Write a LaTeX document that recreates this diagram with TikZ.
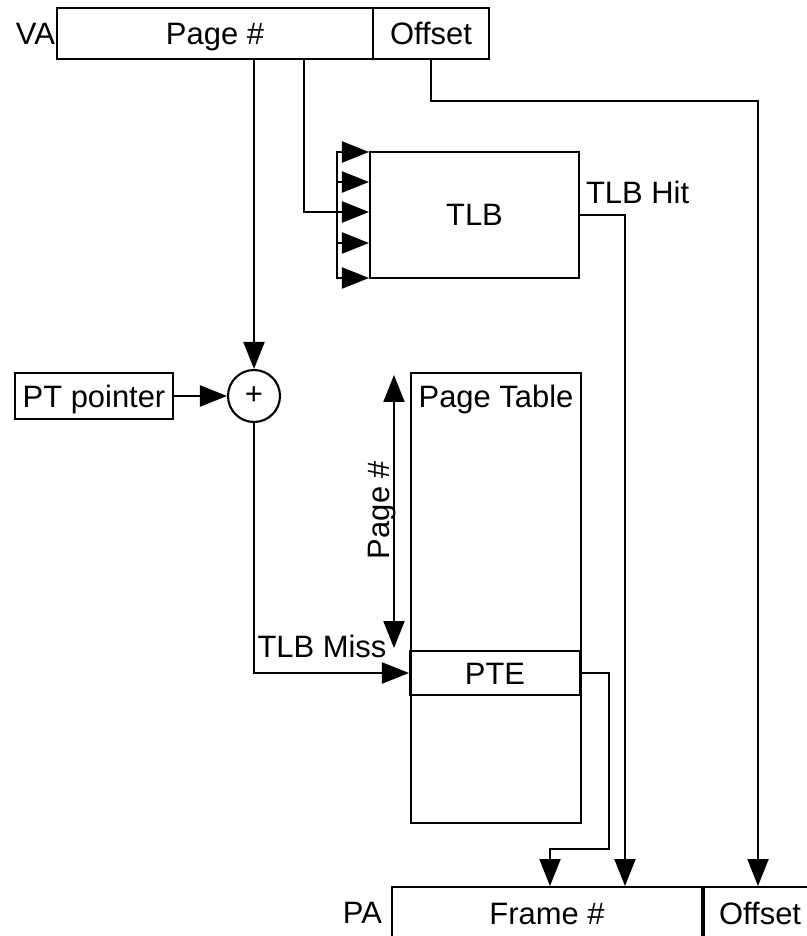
\documentclass[tikz,border=0pt]{standalone}
\usepackage{fontspec}
\setmainfont{Liberation Sans}
\usetikzlibrary{arrows.meta,calc}

\tikzset{
  box/.style={draw=black,line width=1.2pt,rectangle,inner sep=0pt,text height=0.44cm,text depth=0pt},
  arr/.style={-{Triangle[length=0.54cm,width=0.42cm]}},
  dimarr/.style={{Triangle[length=0.54cm,width=0.42cm]}-{Triangle[length=0.54cm,width=0.42cm]}}
}

\begin{document}
\begin{tikzpicture}[x=0.02cm,y=-0.02cm,font=\fontsize{17.6}{21}\selectfont,every path/.style={line width=1.2pt}]
  \useasboundingbox (0,0) rectangle (807,936);

  % VA
  \node[box,minimum width=6.32cm,minimum height=1.02cm] (vapage) at (215,33.5) {Page \#};
  \node[box,minimum width=2.32cm,minimum height=1.02cm] (vaoff) at (431,33.5) {Offset};
  \node[anchor=east,inner sep=0pt] (valbl) at (vapage.west) {VA};

  % TLB
  \node[box,minimum width=4.18cm,minimum height=2.52cm] (tlb) at (474.5,215) {TLB};

  % PT pointer + adder
  \node[box,minimum width=3.16cm,minimum height=0.92cm] (ptr) at (94,396) {PT pointer};
  \node[draw,circle,minimum size=1.04cm,inner sep=0pt] (plus) at (254,396) {+};

  % Page Table
  \node[box,minimum width=3.4cm,minimum height=9cm,anchor=north west] (ptable) at (410,372) {};
  \node[anchor=north,inner sep=0pt] (ptlbl) at ($(ptable.north)+(0,12)$) {Page Table};
  \node[box,minimum width=3.4cm,minimum height=0.88cm] (pte) at (495,673) {PTE};

  % PA
  \node[box,minimum width=6.2cm,minimum height=1.04cm,anchor=north west] (paframe) at (391,886) {Frame \#};
  \node[box,minimum width=2.24cm,minimum height=1.04cm,anchor=north west] (paoff) at (paframe.north east) {Offset};
  \node[anchor=east,inner sep=0pt] (palbl) at ($(paframe.west)+(-8,0)$) {PA};

  % Hilfspunkte
  \coordinate (tap) at (304,0);
  \coordinate (bus) at (337,0);
  \coordinate (hitx) at (625,0);
  \coordinate (ptedrop) at (550,849);
  \coordinate (dimtop) at (394,375);
  \coordinate (dimbot) at (394,648);

  % Page # -> TLB
  \draw (vapage.south -| tap) |- (bus |- 0,212);
  \draw (bus |- tlb.north) -- (bus |- tlb.south);
  \foreach \y in {152,182,212,243,278}
    \draw[arr] (bus |- 0,\y) -- (tlb.west |- 0,\y);

  % Page # -> adder
  \draw[arr] (vapage.south -| plus) -- (plus.north);
  \draw[arr] (ptr) -- (plus);

  % TLB Miss
  \draw[arr] (plus.south) |- (pte.west);
  \node[anchor=south,inner sep=2pt] (misslbl) at (322,662) {TLB Miss};

  % Page # dimension
  \draw[dimarr] (dimtop) -- (dimbot);
  \node[rotate=90,inner sep=0pt] (dimlbl) at (382,510) {Page \#};

  % TLB Hit
  \draw[arr] (tlb.east) -| (paframe.north -| hitx);
  \node[anchor=south west,inner sep=0pt] (hitlbl) at (585,205) {TLB Hit};

  % PTE -> Frame #
  \draw[arr] (pte.east) -- ++(28,0) |- (ptedrop) -- (paframe.north -| ptedrop);

  % Offset
  \draw[arr] (vaoff.south) -- ++(0,41) -| (paoff.north -| 758,0);
\end{tikzpicture}
\end{document}
